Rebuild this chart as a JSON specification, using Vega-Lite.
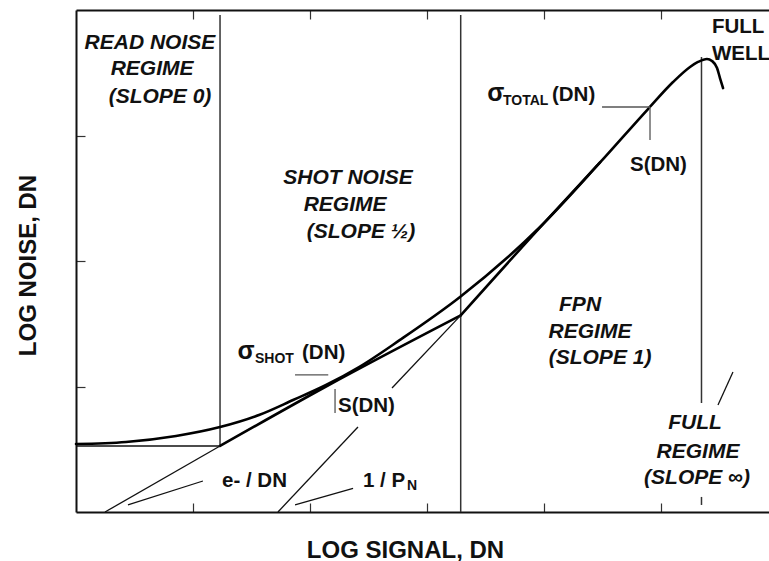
{
  "$schema": "https://vega.github.io/schema/vega-lite/v6.json",
  "width": 693,
  "height": 502,
  "autosize": {"type": "none"},
  "padding": {"left": 76, "top": 10, "right": 0, "bottom": 49},
  "background": "white",
  "config": {"view": {"stroke": null}, "font": "Liberation Sans"},
  "datasets": {
    "bounds": [
      {"x": 1.231, "y": 0.526, "y2": 3.96},
      {"x": 3.288, "y": 0, "y2": 3.96},
      {"x": 5.346, "y": 0.869, "y2": 3.625},
      {"x": 5.346, "y": 0.056, "y2": 0.12}
    ],
    "curves": [
      {"id": "total", "o": 1, "x": 0, "y": 0.542},
      {"id": "total", "o": 2, "x": 0.427, "y": 0.558},
      {"id": "total", "o": 3, "x": 0.855, "y": 0.606},
      {"id": "total", "o": 4, "x": 1.231, "y": 0.677},
      {"id": "total", "o": 5, "x": 1.564, "y": 0.773},
      {"id": "total", "o": 6, "x": 1.855, "y": 0.892},
      {"id": "total", "o": 7, "x": 2.137, "y": 1.012},
      {"id": "total", "o": 8, "x": 2.419, "y": 1.155},
      {"id": "total", "o": 9, "x": 2.769, "y": 1.371},
      {"id": "total", "o": 10, "x": 3.282, "y": 1.713},
      {"id": "total", "o": 11, "x": 3.966, "y": 2.271},
      {"id": "total", "o": 12, "x": 4.479, "y": 2.785},
      {"id": "total", "o": 13, "x": 4.889, "y": 3.211},
      {"id": "total", "o": 14, "x": 5.103, "y": 3.426},
      {"id": "total", "o": 15, "x": 5.248, "y": 3.546},
      {"id": "total", "o": 16, "x": 5.316, "y": 3.586},
      {"id": "total", "o": 17, "x": 5.393, "y": 3.61},
      {"id": "total", "o": 18, "x": 5.436, "y": 3.594},
      {"id": "total", "o": 19, "x": 5.479, "y": 3.538},
      {"id": "total", "o": 20, "x": 5.504, "y": 3.458},
      {"id": "total", "o": 21, "x": 5.53, "y": 3.378},
      {"id": "shot", "o": 1, "x": 1.231, "y": 0.526},
      {"id": "shot", "o": 2, "x": 2.137, "y": 1.0},
      {"id": "shot", "o": 3, "x": 3.288, "y": 1.567},
      {"id": "fpn", "o": 1, "x": 3.288, "y": 1.567},
      {"id": "fpn", "o": 2, "x": 3.966, "y": 2.268},
      {"id": "fpn", "o": 3, "x": 4.479, "y": 2.785}
    ],
    "thin": [
      {"id": "read", "o": 1, "x": 0, "y": 0.526},
      {"id": "read", "o": 2, "x": 1.231, "y": 0.526},
      {"id": "shotext", "o": 1, "x": 0.248, "y": 0},
      {"id": "shotext", "o": 2, "x": 1.231, "y": 0.526},
      {"id": "fpn1", "o": 1, "x": 1.726, "y": 0},
      {"id": "fpn1", "o": 2, "x": 2.41, "y": 0.677},
      {"id": "fpn2", "o": 1, "x": 2.701, "y": 0.988},
      {"id": "fpn2", "o": 2, "x": 3.288, "y": 1.567},
      {"id": "eDN", "o": 1, "x": 0.444, "y": 0.056},
      {"id": "eDN", "o": 2, "x": 1.085, "y": 0.247},
      {"id": "PN", "o": 1, "x": 1.872, "y": 0.056},
      {"id": "PN", "o": 2, "x": 2.368, "y": 0.189},
      {"id": "fullL", "o": 1, "x": 5.615, "y": 1.116},
      {"id": "fullL", "o": 2, "x": 5.487, "y": 0.853}
    ],
    "leaders": [
      {"id": "shotH", "o": 1, "x": 1.872, "y": 1.092},
      {"id": "shotH", "o": 2, "x": 2.156, "y": 1.092},
      {"id": "shotV", "o": 1, "x": 2.214, "y": 0.98},
      {"id": "shotV", "o": 2, "x": 2.214, "y": 0.789},
      {"id": "totH", "o": 1, "x": 4.496, "y": 3.227},
      {"id": "totH", "o": 2, "x": 4.906, "y": 3.227},
      {"id": "totV", "o": 1, "x": 4.906, "y": 3.227},
      {"id": "totV", "o": 2, "x": 4.906, "y": 2.964}
    ]
  },
  "layer": [
    {
      "data": {"name": "bounds"},
      "mark": {"type": "rule", "color": "#333333", "strokeWidth": 1.5},
      "encoding": {
        "x": {"field": "x", "type": "quantitative",
              "scale": {"domain": [0, 5.923], "nice": false, "zero": false},
              "axis": {"orient": "bottom", "title": "LOG SIGNAL, DN", "labels": false, "grid": false,
                       "values": [1, 2, 3, 4, 5], "tickSize": -9, "tickColor": "#333333", "tickWidth": 1.2,
                       "domainColor": "#111111", "domainWidth": 2,
                       "titleFont": "Liberation Sans", "titleFontSize": 24, "titleFontWeight": "bold", "titleColor": "#111111",
                       "titleX": 329, "titleY": 45, "titleBaseline": "alphabetic", "titleAlign": "center"}},
        "y": {"field": "y", "type": "quantitative",
              "scale": {"domain": [0, 4], "nice": false, "zero": false},
              "axis": {"orient": "left", "title": "LOG NOISE, DN", "labels": false, "grid": false,
                       "values": [1, 2, 3], "tickSize": -9, "tickColor": "#333333", "tickWidth": 1.2,
                       "domainColor": "#111111", "domainWidth": 2,
                       "titleFont": "Liberation Sans", "titleFontSize": 24, "titleFontWeight": "bold", "titleColor": "#111111",
                       "titleX": -48, "titleY": 255, "titleAngle": -90, "titleBaseline": "middle", "titleAlign": "center"}},
        "y2": {"field": "y2"}
      }
    },
    {
      "data": {"name": "curves"},
      "mark": {"type": "line", "color": "#000000", "strokeWidth": 2.6, "strokeCap": "round", "strokeJoin": "round", "interpolate": "monotone"},
      "encoding": {
        "x": {"field": "x", "type": "quantitative",
              "axis": {"orient": "top", "title": null, "labels": false, "grid": false,
                       "values": [1, 2, 3, 4, 5], "tickSize": -9, "tickColor": "#333333", "tickWidth": 1.2,
                       "domainColor": "#111111", "domainWidth": 2}},
        "y": {"field": "y", "type": "quantitative", "axis": null},
        "detail": {"field": "id"},
        "order": {"field": "o"}
      }
    },
    {
      "data": {"name": "thin"},
      "mark": {"type": "line", "color": "#111111", "strokeWidth": 1.3},
      "encoding": {
        "x": {"field": "x", "type": "quantitative", "axis": null},
        "y": {"field": "y", "type": "quantitative", "axis": null},
        "detail": {"field": "id"},
        "order": {"field": "o"}
      }
    },
    {
      "data": {"name": "leaders"},
      "mark": {"type": "line", "color": "#555555", "strokeWidth": 1.3},
      "encoding": {
        "x": {"field": "x", "type": "quantitative", "axis": null},
        "y": {"field": "y", "type": "quantitative", "axis": null},
        "detail": {"field": "id"},
        "order": {"field": "o"}
      }
    },
    {
      "data": {"values": [
        {"t": "READ NOISE", "x": 0.632, "y": 3.737},
        {"t": "REGIME", "x": 0.65, "y": 3.53},
        {"t": "(SLOPE 0)", "x": 0.718, "y": 3.307},
        {"t": "SHOT NOISE", "x": 2.325, "y": 2.661},
        {"t": "REGIME", "x": 2.3, "y": 2.446},
        {"t": "(SLOPE ½)", "x": 2.436, "y": 2.231},
        {"t": "FPN", "x": 4.308, "y": 1.649},
        {"t": "REGIME", "x": 4.393, "y": 1.434},
        {"t": "(SLOPE 1)", "x": 4.479, "y": 1.227},
        {"t": "FULL", "x": 5.291, "y": 0.709},
        {"t": "REGIME", "x": 5.316, "y": 0.478},
        {"t": "(SLOPE ∞)", "x": 5.308, "y": 0.271}
      ]},
      "mark": {"type": "text", "font": "Liberation Sans", "fontSize": 21, "fontWeight": "bold", "fontStyle": "italic",
               "align": "center", "baseline": "middle", "color": "#111111"},
      "encoding": {
        "x": {"field": "x", "type": "quantitative", "axis": null},
        "y": {"field": "y", "type": "quantitative", "axis": null},
        "text": {"field": "t"}
      }
    },
    {
      "data": {"values": [
        {"t": "FULL", "x": 5.436, "y": 3.817},
        {"t": "WELL", "x": 5.436, "y": 3.602},
        {"t": "(DN)", "x": 4.068, "y": 3.275},
        {"t": "(DN)", "x": 1.932, "y": 1.219},
        {"t": "S(DN)", "x": 2.239, "y": 0.797},
        {"t": "S(DN)", "x": 4.735, "y": 2.717},
        {"t": "e- / DN", "x": 1.248, "y": 0.199},
        {"t": "1 / P", "x": 2.453, "y": 0.199}
      ]},
      "mark": {"type": "text", "font": "Liberation Sans", "fontSize": 20.5, "fontWeight": "bold",
               "align": "left", "baseline": "alphabetic", "color": "#111111"},
      "encoding": {
        "x": {"field": "x", "type": "quantitative", "axis": null},
        "y": {"field": "y", "type": "quantitative", "axis": null},
        "text": {"field": "t"}
      }
    },
    {
      "data": {"values": [
        {"t": "σ", "x": 3.515, "y": 3.275},
        {"t": "σ", "x": 1.38, "y": 1.219}
      ]},
      "mark": {"type": "text", "font": "Liberation Sans", "fontSize": 25, "fontWeight": "bold",
               "align": "left", "baseline": "alphabetic", "color": "#111111"},
      "encoding": {
        "x": {"field": "x", "type": "quantitative", "axis": null},
        "y": {"field": "y", "type": "quantitative", "axis": null},
        "text": {"field": "t"}
      }
    },
    {
      "data": {"values": [
        {"t": "TOTAL", "x": 3.65, "y": 3.243},
        {"t": "SHOT", "x": 1.53, "y": 1.187},
        {"t": "N", "x": 2.829, "y": 0.175}
      ]},
      "mark": {"type": "text", "font": "Liberation Sans", "fontSize": 14, "fontWeight": "bold",
               "align": "left", "baseline": "alphabetic", "color": "#111111"},
      "encoding": {
        "x": {"field": "x", "type": "quantitative", "axis": null},
        "y": {"field": "y", "type": "quantitative", "axis": null},
        "text": {"field": "t"}
      }
    }
  ],
  "resolve": {"axis": {"x": "independent", "y": "independent"}}
}
